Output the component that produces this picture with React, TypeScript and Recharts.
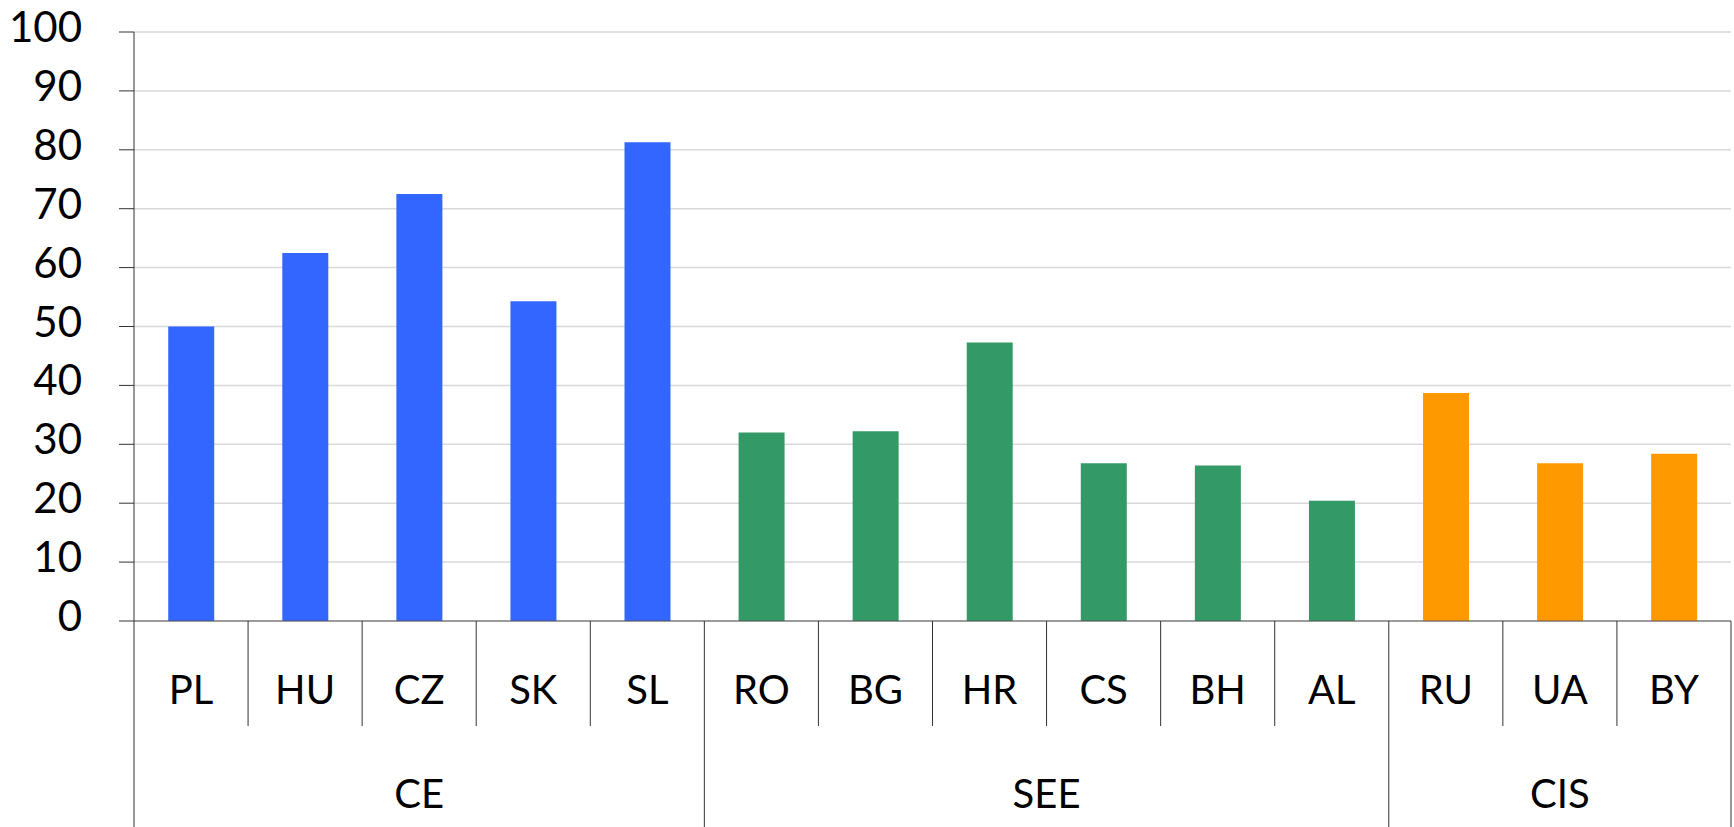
import { BarChart, Bar, XAxis, YAxis, CartesianGrid, Cell } from 'recharts';

const countries = ['PL', 'HU', 'CZ', 'SK', 'SL', 'RO', 'BG', 'HR', 'CS', 'BH', 'AL', 'RU', 'UA', 'BY'];
const shares = [50, 62.5, 72.5, 54.3, 81.3, 32.0, 32.2, 47.3, 26.8, 26.4, 20.4, 38.7, 26.8, 28.4];
const regionOf = ['CE', 'CE', 'CE', 'CE', 'CE', 'SEE', 'SEE', 'SEE', 'SEE', 'SEE', 'SEE', 'CIS', 'CIS', 'CIS'];
const regions = ['CE', 'SEE', 'CIS'];
const regionColors = ['#3366ff', '#339966', '#ff9900'];
const yTicks = [0, 10, 20, 30, 40, 50, 60, 70, 80, 90, 100];

const data = countries.map((c, i) => ({ country: c, value: shares[i], region: regionOf[i] }));

const W = 1734;
const H = 827;
const PLOT_LEFT = 134;
const PLOT_RIGHT = 1731;
const BAND = (PLOT_RIGHT - PLOT_LEFT) / countries.length;
const FONT = 'Lato, "Open Sans", sans-serif';
const LINE = '#333';

function ValueTick({ x, y, payload }: any) {
  return (
    <text x={x} y={y - 6} textAnchor="end" dominantBaseline="central" fontSize={42} fontFamily={FONT} fill="#000">
      {payload.value}
    </text>
  );
}

function CountryTick({ x, y, payload }: any) {
  const left = x - BAND / 2;
  return (
    <g>
      <line x1={left} y1={y} x2={left} y2={y + 105} stroke={LINE} strokeWidth={1} />
      <text x={x} y={y + 68} textAnchor="middle" dominantBaseline="central" fontSize={40} fontFamily={FONT} fill="#000">
        {payload.value}
      </text>
    </g>
  );
}

function RegionTick({ x, y, index }: any) {
  const region = regionOf[index];
  const isStart = index === 0 || regionOf[index - 1] !== region;
  const isLast = index === countries.length - 1;
  const left = x - BAND / 2;
  const count = regionOf.filter(r => r === region).length;
  return (
    <g>
      {isStart && <line x1={left} y1={y} x2={left} y2={H} stroke={LINE} strokeWidth={1} />}
      {isLast && <line x1={x + BAND / 2} y1={y - 105} x2={x + BAND / 2} y2={H} stroke={LINE} strokeWidth={1} />}
      {isStart && (
        <text x={left + (count * BAND) / 2} y={y + 67} textAnchor="middle" dominantBaseline="central" fontSize={40} fontFamily={FONT} fill="#000">
          {region}
        </text>
      )}
    </g>
  );
}

export default function App() {
  return (
    <div style={{ position: 'absolute', left: 0, top: 0, width: W, height: H, background: '#fff' }}>
      <BarChart width={W} height={H} data={data} margin={{ top: 32, right: W - PLOT_RIGHT, bottom: 0, left: 0 }} barCategoryGap="30%">
        <CartesianGrid vertical={false} stroke="#d9d9d9" strokeWidth={1.5} />
        <YAxis
          type="number"
          domain={[0, 100]}
          ticks={yTicks}
          interval={0}
          width={PLOT_LEFT}
          tickSize={15}
          tickMargin={37}
          axisLine={{ stroke: LINE }}
          tickLine={{ stroke: LINE }}
          tick={<ValueTick />}
        />
        <XAxis
          dataKey="country"
          interval={0}
          height={105}
          tickSize={0}
          tickMargin={0}
          tickLine={false}
          axisLine={{ stroke: '#555' }}
          tick={<CountryTick />}
        />
        <XAxis
          xAxisId="region"
          dataKey="country"
          interval={0}
          height={101}
          tickSize={0}
          tickMargin={0}
          tickLine={false}
          axisLine={false}
          tick={<RegionTick />}
        />
        <Bar dataKey="value" isAnimationActive={false}>
          {data.map((d, i) => (
            <Cell key={d.country} fill={regionColors[regions.indexOf(regionOf[i])]} />
          ))}
        </Bar>
      </BarChart>
    </div>
  );
}
